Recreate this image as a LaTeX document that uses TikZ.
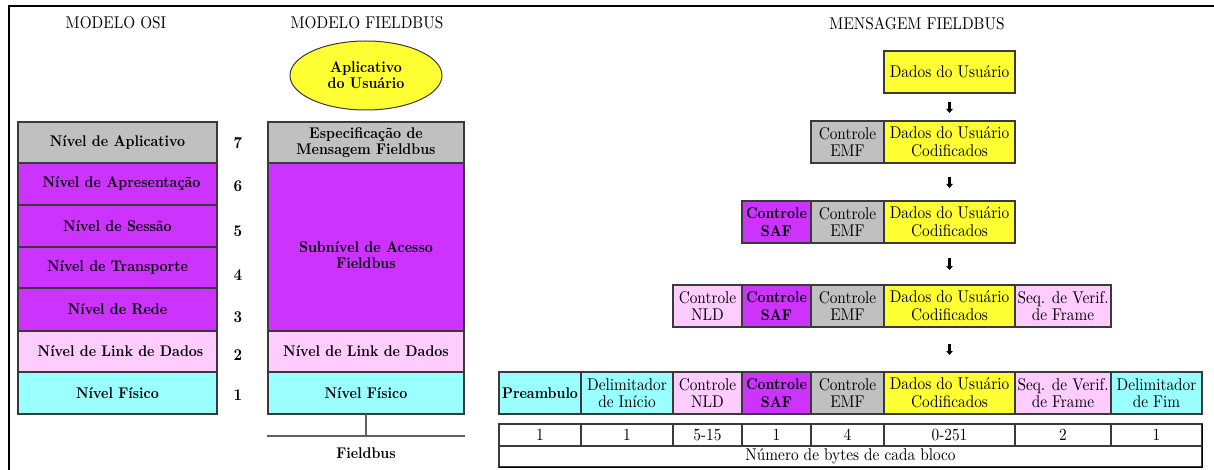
\documentclass[tikz,border=0pt]{standalone}
\usepackage{fontspec}
\newfontfamily\tnr{lmroman10-regular.otf}[BoldFont=lmroman10-bold.otf,FakeStretch=0.9]
\usetikzlibrary{arrows.meta,shapes.geometric}
\definecolor{cgray}{HTML}{C0C0C0}
\definecolor{cpurple}{HTML}{CC33FF}
\definecolor{cpink}{HTML}{FFCCFF}
\definecolor{ccyan}{HTML}{99FFFF}
\definecolor{cyellow}{HTML}{FFFF33}
\definecolor{cline}{HTML}{3A3A3A}
\definecolor{cbus}{HTML}{606060}
\begin{document}
\begin{tikzpicture}[x=1pt,y=-1pt,
  cell/.style={draw=cline, line width=1.1pt, rectangle, inner sep=0pt, outer sep=0pt, align=center},
  lbold/.style={font=\tnr\fontsize{15.5}{16}\selectfont\bfseries},
  head/.style={font=\tnr\fontsize{17}{18}\selectfont},
  num/.style={font=\tnr\fontsize{16.5}{18}\selectfont\bfseries},
  rtext/.style={font=\tnr\fontsize{17}{17.5}\selectfont},
  rbold/.style={font=\tnr\fontsize{15.5}{17.5}\selectfont\bfseries},
  down/.style={line width=2.6pt, -{Triangle[length=4pt,width=6.5pt]}},
  bus/.style={draw=cbus, line width=1.3pt},
  frame/.style={line width=2pt, black}
]
\useasboundingbox (0,0) rectangle (1214,470);
% outer frame
\coordinate (fTR) at (1214,6.5);
\coordinate (fTL) at (8.5,6.5);
\coordinate (fBL) at (8.5,470);
\draw[frame] (fTR) -- (fTL) -- (fBL);

% headers
\node[head] (hOSI) at (116,23) {MODELO OSI};
\node[head] (hFB) at (367,23) {MODELO FIELDBUS};
\node[head] (hMSG) at (917,24) {MENSAGEM FIELDBUS};

% OSI column
\node[cell,fill=cgray,minimum width=199pt,minimum height=41pt,lbold] (osi7) at (117.5,142.5) {Nível de Aplicativo};
\node[cell,fill=cpurple,minimum width=199pt,minimum height=42pt,lbold] (osi6) at (117.5,184) {\hspace*{8pt}Nível de Apresentação};
\node[cell,fill=cpurple,minimum width=199pt,minimum height=42pt,lbold] (osi5) at (117.5,226) {Nível de Sessão};
\node[cell,fill=cpurple,minimum width=199pt,minimum height=41pt,lbold] (osi4) at (117.5,267.5) {Nível de Transporte};
\node[cell,fill=cpurple,minimum width=199pt,minimum height=43pt,lbold] (osi3) at (117.5,309.5) {Nível de Rede};
\node[cell,fill=cpink,minimum width=199pt,minimum height=41pt,lbold] (osi2) at (117.5,351.5) {\hspace*{6pt}Nível de Link de Dados};
\node[cell,fill=ccyan,minimum width=199pt,minimum height=42pt,lbold] (osi1) at (117.5,393) {Nível Físico};

% layer numbers
\node[num] (n7) at (238,143) {7};
\node[num] (n6) at (238,186) {6};
\node[num] (n5) at (238,231) {5};
\node[num] (n4) at (238,275) {4};
\node[num] (n3) at (238,317) {3};
\node[num] (n2) at (238,355) {2};
\node[num] (n1) at (238,395) {1};

% Fieldbus column
\node[ellipse,draw=cline,line width=1pt,fill=cyellow,minimum width=152pt,minimum height=69pt,inner sep=0pt,align=center,lbold] (app) at (366,75.5) {Aplicativo\\do Usuário};
\node[cell,fill=cgray,minimum width=196pt,minimum height=41pt,lbold] (fbesp) at (366,142.5) {Especificação de\\Mensagem Fieldbus};
\node[cell,fill=cpurple,minimum width=196pt,minimum height=168pt] (fbsub) at (366,247) {};
\node[lbold,align=center] (fbsubtxt) at (366,255) {Subnível de Acesso\\Fieldbus};
\node[cell,fill=cpink,minimum width=196pt,minimum height=41pt,lbold] (fblink) at (366,351.5) {Nível de Link de Dados};
\node[cell,fill=ccyan,minimum width=196pt,minimum height=42pt,lbold] (fbfis) at (366,393) {Nível Físico};
\coordinate (busJ) at (366,436);
\coordinate (busL) at (267,436);
\coordinate (busR) at (465,436);
\draw[bus] (fbfis.south) -- (busJ);
\draw[bus] (busL) -- (busR);
\node[lbold] (fbname) at (366,453) {Fieldbus};

% Message rows
\node[cell,fill=cyellow,minimum width=131pt,minimum height=42pt,rtext] (r1d) at (949.5,72) {Dados do Usuário};
\node[cell,fill=cgray,minimum width=73pt,minimum height=42pt,rtext] (r2e) at (847.5,142) {Controle\\EMF};
\node[cell,fill=cyellow,minimum width=131pt,minimum height=42pt,rtext] (r2d) at (949.5,142) {Dados do Usuário\\Codificados};
\node[cell,fill=cpurple,minimum width=69pt,minimum height=42pt,rbold] (r3s) at (776.5,222) {Controle\\SAF};
\node[cell,fill=cgray,minimum width=73pt,minimum height=42pt,rtext] (r3e) at (847.5,222) {Controle\\EMF};
\node[cell,fill=cyellow,minimum width=131pt,minimum height=42pt,rtext] (r3d) at (949.5,222) {Dados do Usuário\\Codificados};
\node[cell,fill=cpink,minimum width=69pt,minimum height=42pt,rtext] (r4n) at (707.5,306) {Controle\\NLD};
\node[cell,fill=cpurple,minimum width=69pt,minimum height=42pt,rbold] (r4s) at (776.5,306) {Controle\\SAF};
\node[cell,fill=cgray,minimum width=73pt,minimum height=42pt,rtext] (r4e) at (847.5,306) {Controle\\EMF};
\node[cell,fill=cyellow,minimum width=131pt,minimum height=42pt,rtext] (r4d) at (949.5,306) {Dados do Usuário\\Codificados};
\node[cell,fill=cpink,minimum width=96pt,minimum height=42pt,rtext] (r4q) at (1063,306) {Seq. de Verif.\\de Frame};
\node[cell,fill=ccyan,minimum width=82pt,minimum height=42pt,rbold] (r5p) at (540,393) {Preambulo};
\node[cell,fill=ccyan,minimum width=92pt,minimum height=42pt,rtext] (r5i) at (627,393) {Delimitador\\de Início};
\node[cell,fill=cpink,minimum width=69pt,minimum height=42pt,rtext] (r5n) at (707.5,393) {Controle\\NLD};
\node[cell,fill=cpurple,minimum width=69pt,minimum height=42pt,rbold] (r5s) at (776.5,393) {Controle\\SAF};
\node[cell,fill=cgray,minimum width=73pt,minimum height=42pt,rtext] (r5e) at (847.5,393) {Controle\\EMF};
\node[cell,fill=cyellow,minimum width=131pt,minimum height=42pt,rtext] (r5d) at (949.5,393) {Dados do Usuário\\Codificados};
\node[cell,fill=cpink,minimum width=96pt,minimum height=42pt,rtext] (r5q) at (1063,393) {Seq. de Verif.\\de Frame};
\node[cell,fill=ccyan,minimum width=91pt,minimum height=42pt,rtext] (r5f) at (1156.5,393) {Delimitador\\de Fim};

% byte counts
\node[cell,fill=white,minimum width=82pt,minimum height=22pt,rtext] (b1) at (540,435) {1};
\node[cell,fill=white,minimum width=92pt,minimum height=22pt,rtext] (b2) at (627,435) {1};
\node[cell,fill=white,minimum width=69pt,minimum height=22pt,rtext] (b3) at (707.5,435) {5-15};
\node[cell,fill=white,minimum width=69pt,minimum height=22pt,rtext] (b4) at (776.5,435) {1};
\node[cell,fill=white,minimum width=73pt,minimum height=22pt,rtext] (b5) at (847.5,435) {4};
\node[cell,fill=white,minimum width=131pt,minimum height=22pt,rtext] (b6) at (949.5,435) {0-251};
\node[cell,fill=white,minimum width=96pt,minimum height=22pt,rtext] (b7) at (1063,435) {2};
\node[cell,fill=white,minimum width=91pt,minimum height=22pt,rtext] (b8) at (1156.5,435) {1};
\node[cell,fill=white,minimum width=703pt,minimum height=21pt,rtext] (bytes) at (850.5,456.5) {Número de bytes de cada bloco};
\draw[line width=1.6pt,black] ([xshift=0.6pt]b8.north east) -- ([xshift=0.6pt,yshift=-0.6pt]bytes.south east) -- ([yshift=-0.6pt]bytes.south west);

% arrows
\draw[down,shorten <=9pt,shorten >=8pt] (r1d.south) -- (r2d.north);
\draw[down,shorten <=14pt,shorten >=13pt] (r2d.south) -- (r3d.north);
\draw[down,shorten <=15pt,shorten >=15pt] (r3d.south) -- (r4d.north);
\draw[down,shorten <=17pt,shorten >=17pt] (r4d.south) -- (r5d.north);
\end{tikzpicture}
\end{document}
